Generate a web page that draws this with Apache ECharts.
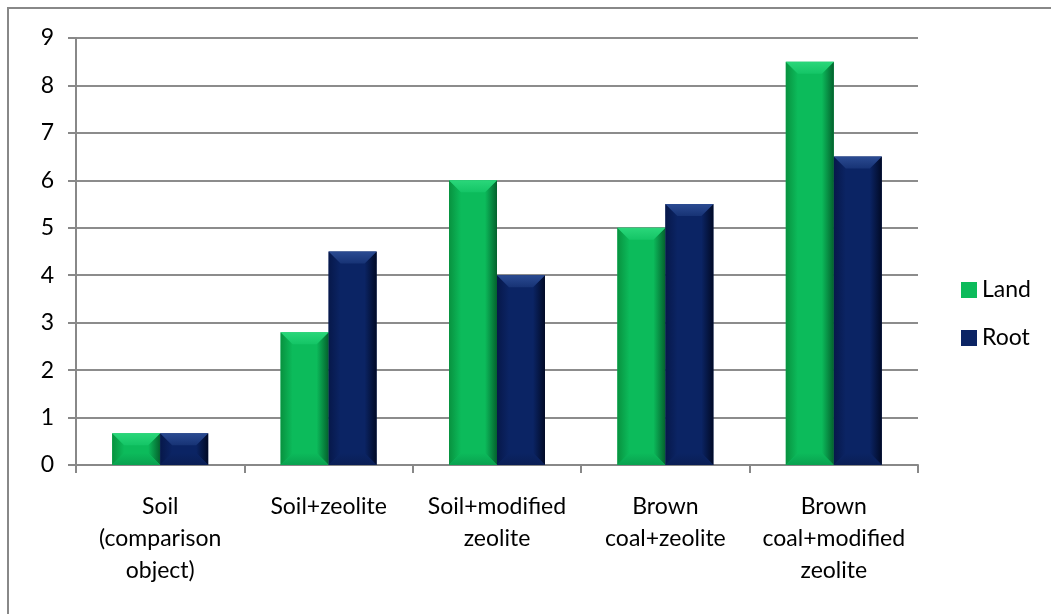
<!DOCTYPE html>
<html>
<head>
<meta charset="utf-8">
<script src="https://cdn.jsdelivr.net/npm/echarts@6/dist/echarts.min.js"></script>
<style>
  html, body { margin: 0; padding: 0; background: #fff; }
  #chart { width: 1051px; height: 614px; }
</style>
</head>
<body>
<div id="chart"></div>
<script>
// Treatment groups along the x axis
const categories = [
  'Soil\n(comparison\nobject)',
  'Soil+zeolite',
  'Soil+modified\nzeolite',
  'Brown\ncoal+zeolite',
  'Brown\ncoal+modified\nzeolite'
];
// Measured values per group
const landValues = [0.67, 2.8, 6.0, 5.0, 8.5];
const rootValues = [0.67, 4.5, 4.0, 5.5, 6.5];
// Value axis range
const yMin = 0;
const yMax = 9;
const yStep = 1;

const FONT = 'Lato, "Open Sans", sans-serif';
const BAR_PCT = 0.285;

// Facet colours for the bevelled bar look
const palettes = [
  { face: '#0cbb5b', top: '#2ad77a', topInner: '#14c566', bottom: '#09a14f', left: '#08923f', right: '#04612d' },
  { face: '#0b2464', top: '#2b4b92', topInner: '#173375', bottom: '#0a1e55', left: '#07184a', right: '#010a26' }
];

// Bevel overlay data: [categoryIndex, value, seriesIndex]
const bevelData = [];
landValues.forEach((v, i) => bevelData.push([i, v, 0]));
rootValues.forEach((v, i) => bevelData.push([i, v, 1]));

function renderBevel(params, api) {
  const idx = api.value(0);
  const val = api.value(1);
  const s = api.value(2);
  const base = api.coord([idx, 0]);
  const top = api.coord([idx, val]);
  const band = api.size([1, 0])[0];
  const bw = band * BAR_PCT;
  const x0 = s === 0 ? base[0] - bw : base[0];
  const x1 = x0 + bw;
  const y0 = top[1];
  const y1 = base[1];
  const h = y1 - y0;
  const b = Math.min(12, h / 2.2, bw / 2.5);
  const p = palettes[s];
  const poly = (pts, fill) => ({ type: 'polygon', shape: { points: pts }, style: { fill: fill }, silent: true });
  const lin = (x, y, x2, y2, c0, c1) => ({ type: 'linear', x: x, y: y, x2: x2, y2: y2, colorStops: [{ offset: 0, color: c0 }, { offset: 1, color: c1 }] });
  return {
    type: 'group',
    children: [
      poly([[x0, y0], [x0 + b, y0 + b], [x0 + b, y1 - b], [x0, y1]], lin(0, 0, 1, 0, p.left, p.face)),
      poly([[x1, y0], [x1 - b, y0 + b], [x1 - b, y1 - b], [x1, y1]], lin(0, 0, 1, 0, p.face, p.right)),
      poly([[x0, y1], [x1, y1], [x1 - b, y1 - b], [x0 + b, y1 - b]], lin(0, 0, 0, 1, p.face, p.bottom)),
      poly([[x0, y0], [x1, y0], [x1 - b, y0 + b], [x0 + b, y0 + b]], lin(0, 0, 0, 1, p.top, p.topInner))
    ]
  };
}

const chart = echarts.init(document.getElementById('chart'), null, { renderer: 'canvas' });
chart.setOption({
  animation: false,
  backgroundColor: '#ffffff',
  graphic: [{
    type: 'rect',
    shape: { x: 8, y: 8, width: 1200, height: 800 },
    style: { fill: 'none', stroke: '#888888', lineWidth: 2 },
    silent: true
  }],
  grid: { left: 76, right: 133, top: 38, bottom: 149, containLabel: false },
  legend: {
    orient: 'vertical',
    left: 956,
    top: 273,
    itemWidth: 16,
    itemHeight: 16,
    itemGap: 24,
    icon: 'rect',
    textStyle: { fontFamily: FONT, fontSize: 23, lineHeight: 24, color: '#000' },
    data: ['Land', 'Root']
  },
  xAxis: {
    type: 'category',
    data: categories,
    axisLine: { lineStyle: { color: '#888888', width: 2 } },
    axisTick: { show: true, length: 8, lineStyle: { color: '#888888', width: 2 } },
    axisLabel: {
      fontFamily: FONT, fontSize: 23, color: '#000', lineHeight: 32,
      margin: 26, interval: 0
    }
  },
  yAxis: {
    type: 'value',
    min: yMin, max: yMax, interval: yStep,
    axisLine: { show: true, lineStyle: { color: '#888888', width: 2 } },
    axisTick: { show: true, length: 8, lineStyle: { color: '#888888', width: 2 } },
    splitLine: { lineStyle: { color: '#8c8c8c', width: 2 } },
    axisLabel: { fontFamily: FONT, fontSize: 23, color: '#000', margin: 22 }
  },
  series: [
    {
      name: 'Land',
      type: 'bar',
      data: landValues,
      barWidth: (BAR_PCT * 100) + '%',
      barGap: '0%',
      itemStyle: { color: palettes[0].face }
    },
    {
      name: 'Root',
      type: 'bar',
      data: rootValues,
      barWidth: (BAR_PCT * 100) + '%',
      barGap: '0%',
      itemStyle: { color: palettes[1].face }
    },
    {
      name: 'bevel',
      type: 'custom',
      data: bevelData,
      renderItem: renderBevel,
      silent: true,
      z: 3,
      encode: { x: 0, y: 1 }
    }
  ]
});
</script>
</body>
</html>
